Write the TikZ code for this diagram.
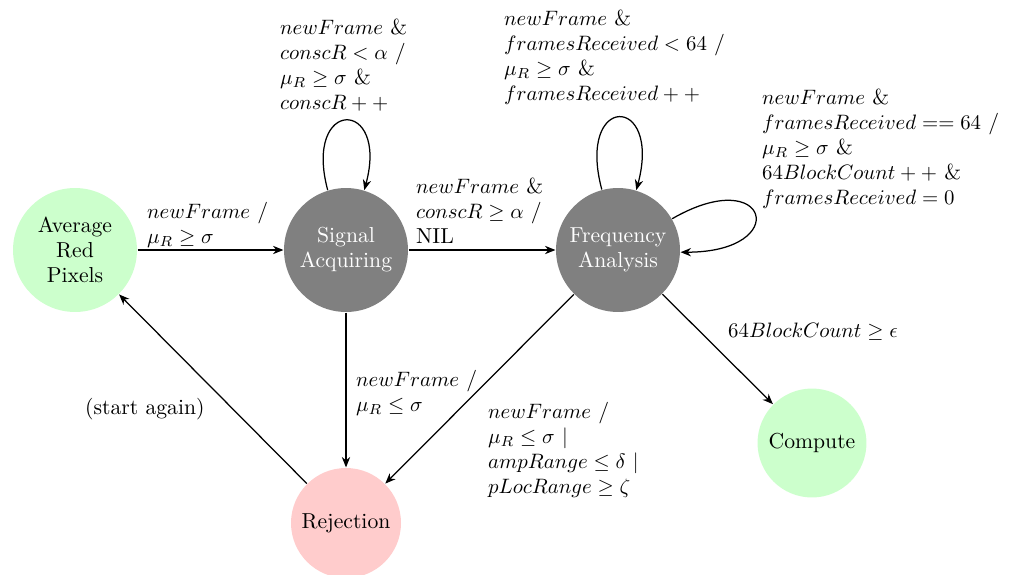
\documentclass[tikz,border=0pt]{standalone}
\usetikzlibrary{arrows.meta}

\tikzset{every picture/.style={line width=0.6pt}}
\tikzset{
  every node/.style={font=\fontsize{10.4}{12}\selectfont},
  state/.style={circle,draw=none,inner sep=0pt,align=center},
  busy/.style={state,fill=gray,text=white,minimum size=59.5pt},
  okay/.style={state,fill=green!20},
  fail/.style={state,fill=red!20},
  lbl/.style={anchor=north west,inner sep=0.75pt,align=left},
}

\begin{document}
\begin{tikzpicture}[x=0.48pt,y=0.48pt,yscale=-1,xscale=1,
  >={Stealth[length=5pt,width=4pt,inset=1.6pt]}]
\useasboundingbox (0,0) rectangle (1013,574);

% States
\node [okay,minimum size=59.5pt] (avg) at (75,250) {Average\\Red\\Pixels};
\node [busy] (acq) at (346,250) {Signal\\Acquiring};
\node [busy] (freq) at (618,250) {Frequency\\Analysis};
\node [okay,minimum size=52.3pt] (comp) at (812,443) {Compute};
\node [fail,minimum size=52.8pt] (rej) at (346,523) {Rejection};

% Transitions
\draw [->] (avg) -- (acq);
\draw [->] (acq) -- (freq);
\draw [->] (acq) -- (rej);
\draw [->] (freq) -- (rej);
\draw [->] (freq) -- (comp);
\draw [->] (rej) -- (avg);
% self loops (y axis points down here)
\draw [->] (acq.107) .. controls +(-105:96) and +(-75:96) .. (acq.73);
\draw [->] (freq.105) .. controls +(-105:100) and +(-75:100) .. (freq.73);
\draw [->] (freq.30) .. controls +(-30:112) and +(0:112) .. (freq.-2);

% Labels
\node [lbl] (lstart) at (145,200) {$newFrame$ /\\$\mu_R \geq \sigma$};
\node [lbl] (lacq) at (278,17) {$newFrame$ \&\\$conscR < \alpha$ /\\$\mu_R \geq \sigma$ \&\\$conscR++$};
\node [lbl] (lgo) at (414,176) {$newFrame$ \&\\$conscR \geq \alpha$ /\\NIL};
\node [lbl] (lfreq) at (502,8) {$newFrame$ \&\\$framesReceived < 64$ /\\$\mu_R \geq \sigma$ \&\\$framesReceived++$};
\node [lbl] (lblock) at (760,87) {$newFrame$ \&\\$framesReceived == 64$ /\\$\mu_R \geq \sigma$ \&\\$64BlockCount++$ \&\\$framesReceived = 0$};
\node [lbl] (llow) at (354,368) {$newFrame$ /\\$\mu_R \leq \sigma$};
\node [lbl] (lbad) at (486,400) {$newFrame$ /\\$\mu_R \leq \sigma$ $|$\\$ampRange \leq \delta$ $|$\\$pLocRange \geq \zeta$};
\node [lbl] (ldone) at (726,321) {$64BlockCount \geq \epsilon$};
\node [lbl] (lagain) at (83,396) {(start again)};

\end{tikzpicture}
\end{document}
